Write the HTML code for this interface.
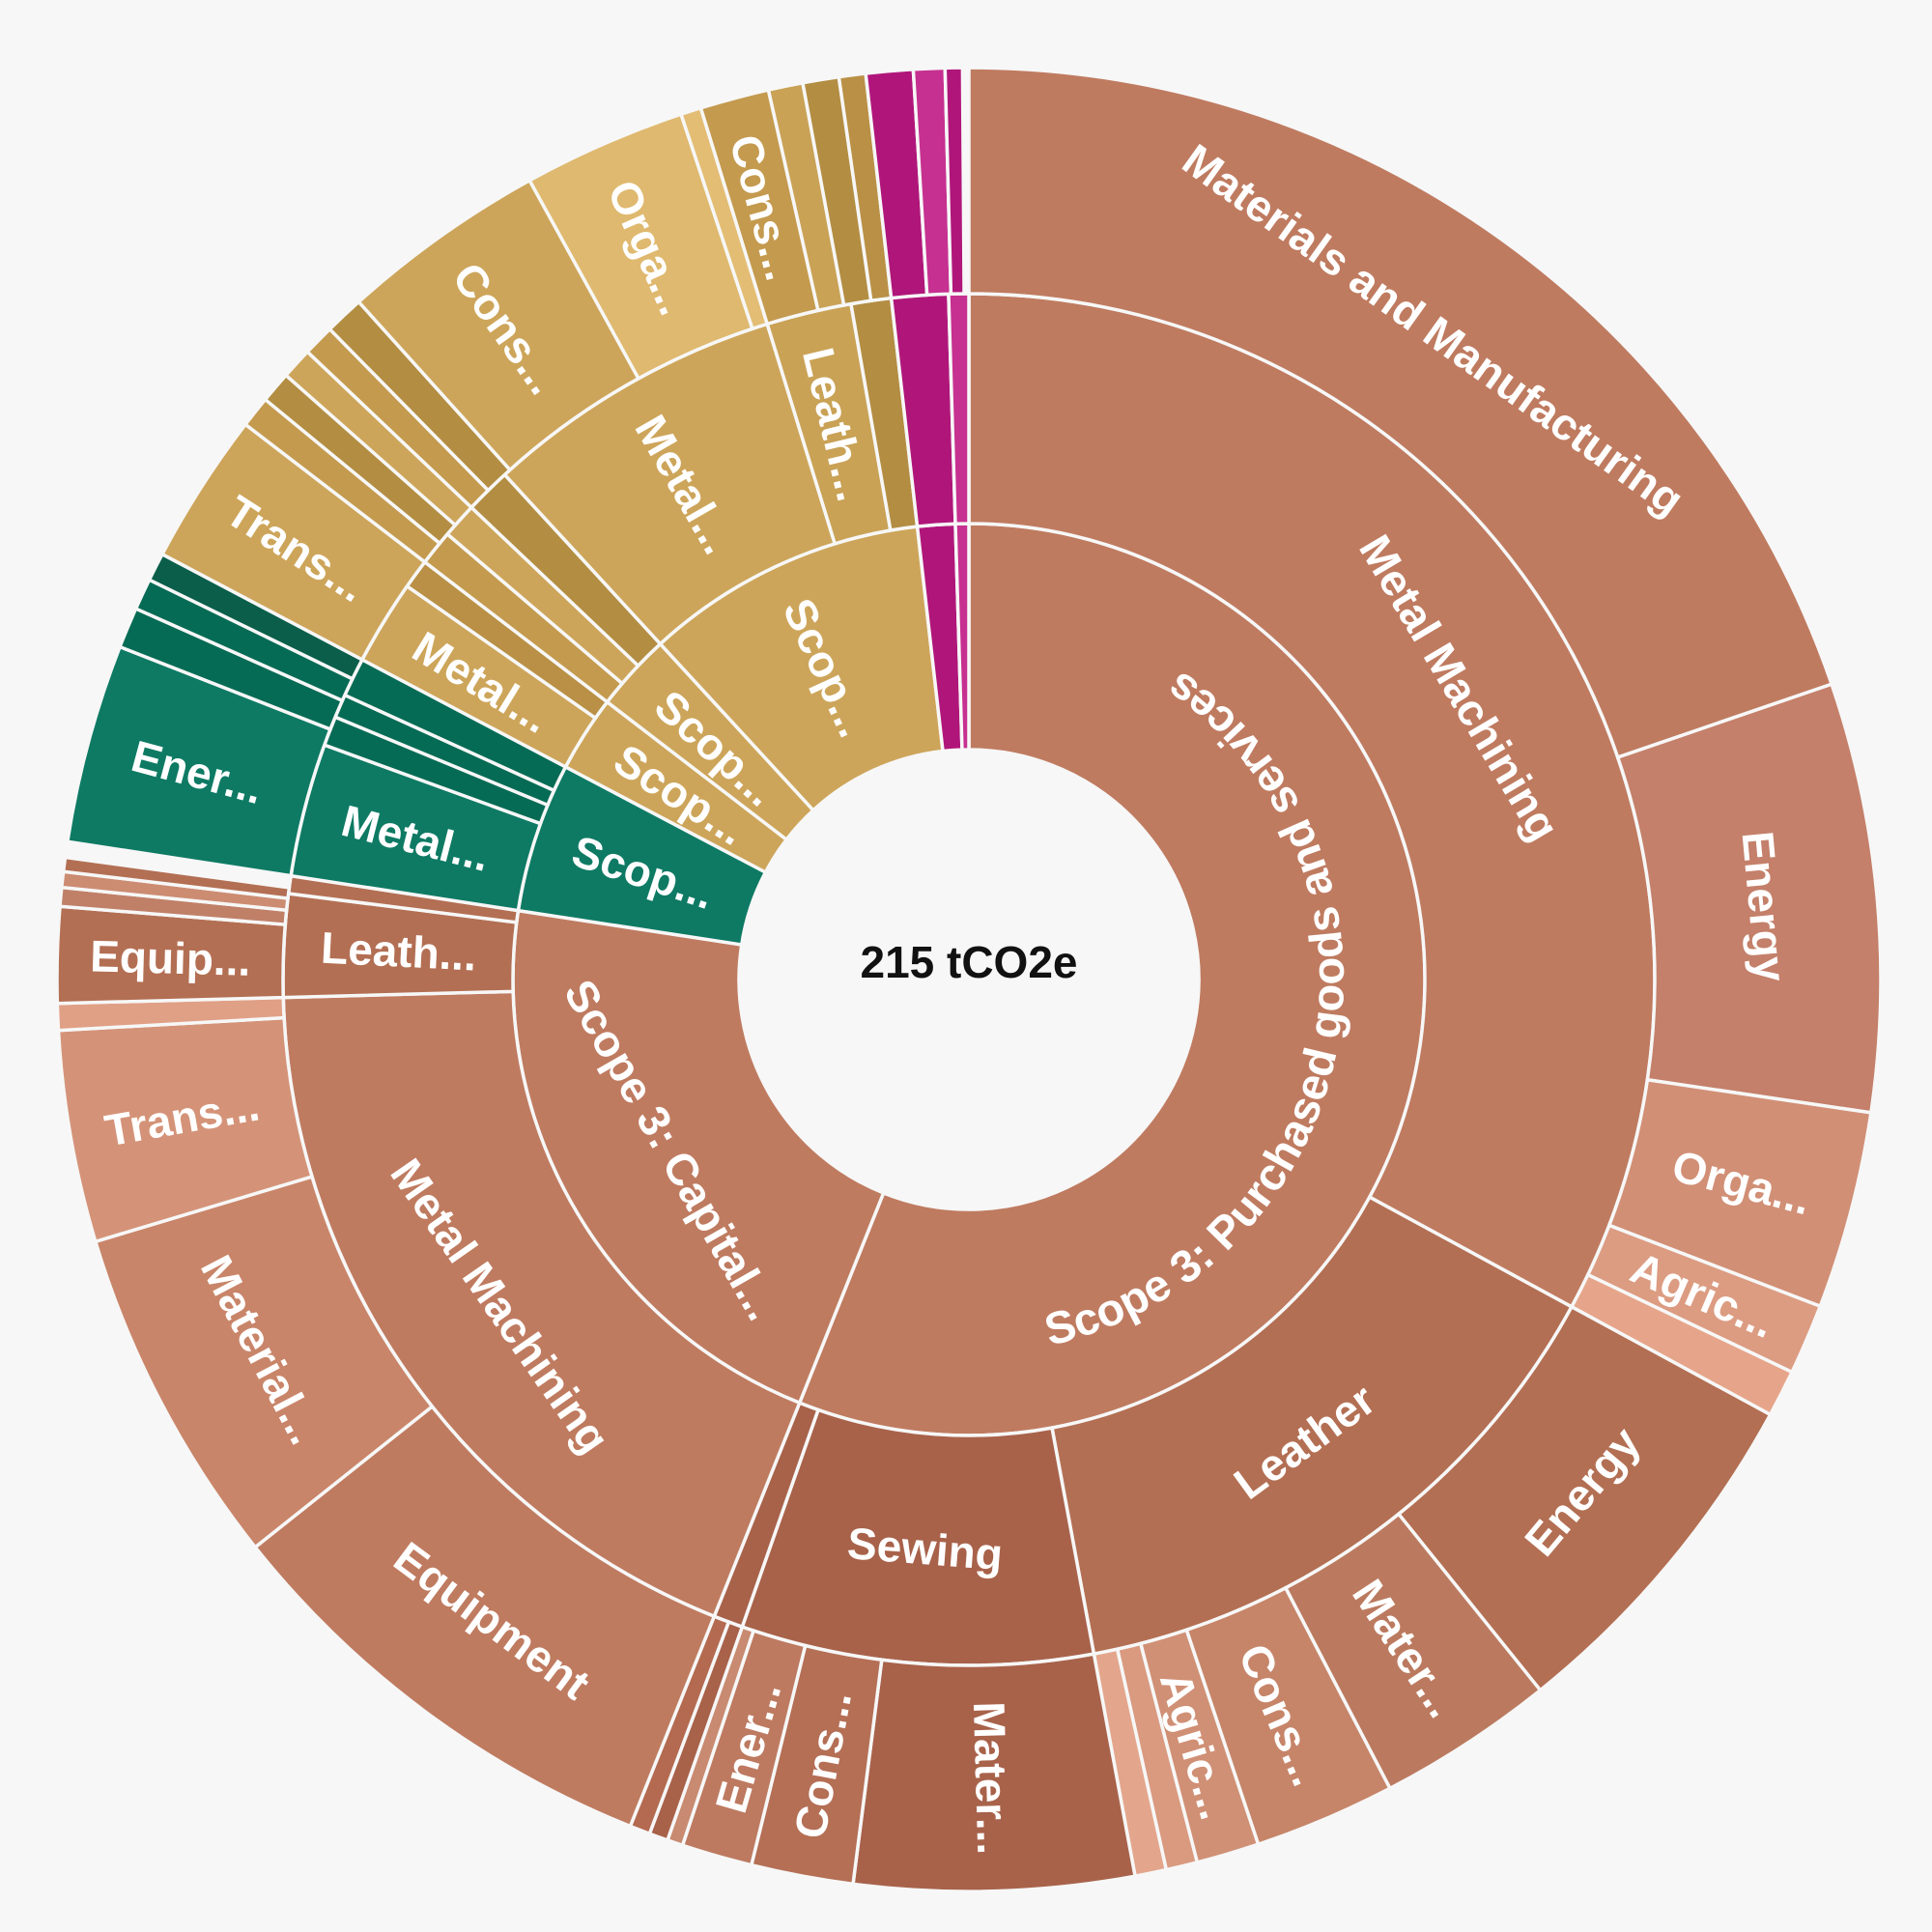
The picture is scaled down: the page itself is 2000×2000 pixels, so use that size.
<!DOCTYPE html>
<html><head><meta charset="utf-8"><style>
html,body{margin:0;padding:0;background:#f7f7f7;}
svg{display:block;}
text{font-family:"Liberation Sans",sans-serif;font-weight:bold;fill:#fff;}
</style></head><body>
<svg id="s" width="2000" height="2000" viewBox="0 0 2000 2000" xmlns="http://www.w3.org/2000/svg">
<rect width="2000" height="2000" fill="#f7f7f7"/>
<g id="g"></g>
<defs><path id="pg" d=""/></defs>
<text id="pgt" font-size="47"><textPath href="#pg" startOffset="50%" text-anchor="middle">Scope 3: Purchased goods and services</textPath></text>
<text x="1003" y="1000" font-size="46" text-anchor="middle" dominant-baseline="middle" style="fill:#111">215 tCO2e</text>
</svg>
<script>
var cx=1003,cy=1014,R=[238,472,710,944];
function pt(r,a){var t=a*Math.PI/180;return [cx+r*Math.sin(t),cy-r*Math.cos(t)];}
function arc(r0,r1,a0,a1){var l=(a1-a0)>180?1:0;var p1=pt(r1,a0),p2=pt(r1,a1),p3=pt(r0,a1),p4=pt(r0,a0);
return "M"+p1+"A"+r1+","+r1+" 0 "+l+" 1 "+p2+"L"+p3+"A"+r0+","+r0+" 0 "+l+" 0 "+p4+"Z";}
var D=[
[0,0,201.8,"#bf7b60"],
[0,201.8,278.7,"#bf7b60","Scope 3: Capital...","t"],
[0,278.7,297.8,"#0e7a64","Scop...","r"],
[0,297.8,307.5,"#cda55a","Scop...","r"],
[0,307.5,317.4,"#cda55a","Scop...","r"],
[0,317.4,353.5,"#cda55a","Scop...","r"],
[0,353.5,358.3,"#b0167a"],[0,358.3,360,"#c63090"],
[1,0,118.5,"#bf7b60","Metal Machining","t"],
[1,118.5,169.5,"#b36f53","Leather","t"],
[1,169.5,199.3,"#a8624a","Sewing","t"],
[1,199.3,201.8,"#a8624a"],
[1,201.8,268.5,"#bf7b60","Metal Machining","t"],
[1,268.5,277.2,"#b36f53","Leath...","r"],
[1,277.2,278.7,"#b36f53"],
[1,278.7,290,"#0e7a64","Metal...","r"],
[1,290,292.5,"#066b55"],[1,292.5,294.5,"#066b55"],[1,294.5,297.8,"#066b55"],
[1,297.8,305,"#cda55a","Metal...","r"],[1,305,307.5,"#b99045"],
[1,307.5,310.5,"#c49a4e"],[1,310.5,313.5,"#cda55a"],[1,313.5,317.4,"#b38d42"],
[1,317.4,342.9,"#cda55a","Metal...","r"],
[1,342.9,350.1,"#c9a256","Leath...","r"],
[1,350.1,353.5,"#b38d42"],
[1,353.5,358.3,"#b0167a"],[1,358.3,360,"#c63090"],
[2,0,71.1,"#bf7b60","Materials and Manufacturing","t"],
[2,71.1,98.4,"#c4806a","Energy","t"],
[2,98.4,111,"#d18f75","Orga...","r"],
[2,111,115.5,"#dc9c82","Agric...","r"],
[2,115.5,118.5,"#e6a58a"],
[2,118.5,141.2,"#b36f53","Energy","t"],
[2,141.2,152.5,"#bb7a5f","Mater...","r"],
[2,152.5,161.5,"#c68569","Cons...","r"],
[2,161.5,165.5,"#d09075","Agric...","r"],
[2,165.5,167.5,"#d99a80"],[2,167.5,169.5,"#e3a68c"],
[2,169.5,187.3,"#a8624a","Mater...","r"],
[2,187.3,193.8,"#b46f55","Cons...","r"],
[2,193.8,198.3,"#bd7a60","Ener...","r"],
[2,198.3,199.3,"#c88a70"],
[2,199.3,200.5,"#a8624a"],[2,200.5,201.8,"#b36a50"],
[2,201.8,231.5,"#bf7b60","Equipment","t"],
[2,231.5,253.3,"#c98569","Material...","t"],
[2,253.3,266.8,"#d49378","Trans...","r"],
[2,266.8,268.5,"#e0a086"],
[2,268.5,274.6,"#b36f53","Equip...","r"],
[2,274.6,275.8,"#c08068"],[2,275.8,276.8,"#cc8c72"],[2,276.8,277.7,"#b36f53"],
[2,278.7,291.4,"#0e7a64","Ener...","r"],[2,291.4,294,"#066b55"],[2,294,296,"#066b55"],[2,296,297.8,"#0a5e4a"],
[2,297.8,307.5,"#cda55a","Trans...","r"],
[2,307.5,309.5,"#c49a4e"],[2,309.5,311.5,"#b38d42"],[2,311.5,313.5,"#cda55a"],[2,313.5,315.5,"#c49a4e"],[2,315.5,318,"#b38d42"],
[2,318,331.2,"#cda55a","Cons...","r"],
[2,331.2,341.6,"#dfb96f","Orga...","r"],
[2,341.6,342.9,"#e3bd74"],
[2,342.9,347.3,"#c49a4e","Cons...","r"],
[2,347.3,349.5,"#c9a256"],[2,349.5,351.8,"#b38d42"],[2,351.8,353.5,"#b99045"],
[2,353.5,356.5,"#b0167a"],[2,356.5,358.5,"#c63090"],[2,358.5,359.6,"#b0167a"]
];
var g=document.getElementById('g'),h='',tx='';
D.forEach(function(d){var r0=R[d[0]],r1=R[d[0]+1];
h+='<path d="'+arc(r0,r1,d[1],d[2])+'" fill="'+d[3]+'" stroke="#f7f7f7" stroke-width="3.5"/>';
if(d[4]){var m=(d[1]+d[2])/2,p=pt((r0+r1)/2,m),rot;
if(d[5]=='t'){rot=(m>90&&m<270)?m-180:m;}else{rot=m<180?m-90:m-270;}
tx+='<text x="'+p[0]+'" y="'+p[1]+'" font-size="46" text-anchor="middle" dominant-baseline="central" transform="rotate('+rot+' '+p[0]+' '+p[1]+')">'+d[4]+'</text>';}
});
g.innerHTML=h+tx;
var r=388,a=pt(r,200),b=pt(r,2);
document.getElementById('pg').setAttribute('d','M'+a+'A'+r+','+r+' 0 1 0 '+b);
</script>
</body></html>
